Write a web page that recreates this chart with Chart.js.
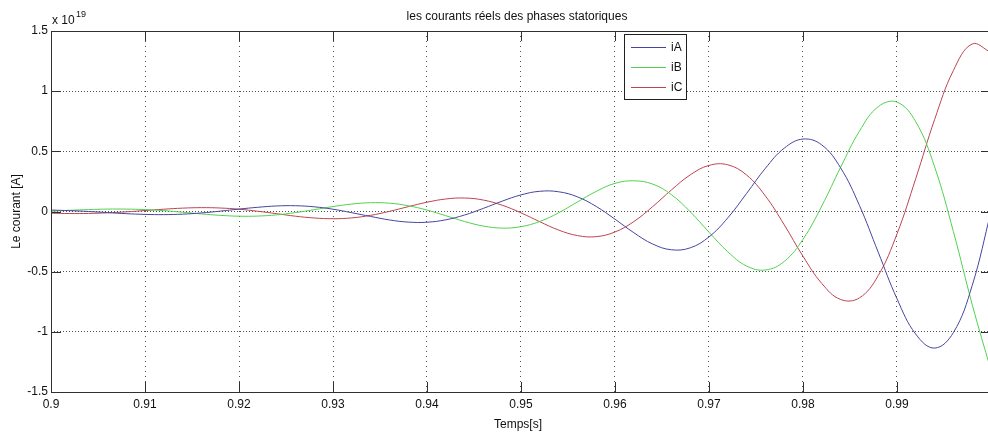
<!DOCTYPE html>
<html>
<head>
<meta charset="utf-8">
<title>Courants statoriques</title>
<script src="https://cdn.jsdelivr.net/npm/chart.js@4.4.1/dist/chart.umd.min.js"></script>
<style>
  html, body { margin: 0; padding: 0; background: #fff; overflow: hidden; }
  #zone { width: 992px; height: 432px; }
</style>
</head>
<body>
<div id="zone"><canvas id="courants" width="992" height="432"></canvas></div>
<script>
// temps en secondes
const temps = [
  0.900, 0.902, 0.904, 0.906, 0.908, 0.910, 0.912, 0.914, 0.916, 0.918,
  0.920, 0.922, 0.924, 0.926, 0.928, 0.930, 0.932, 0.934, 0.936, 0.938,
  0.940, 0.942, 0.944, 0.946, 0.948, 0.950, 0.952, 0.954, 0.956, 0.958,
  0.960, 0.962, 0.964, 0.966, 0.968, 0.970, 0.972, 0.974, 0.976, 0.978,
  0.980, 0.982, 0.984, 0.986, 0.988, 0.990, 0.992, 0.994, 0.996, 0.998,
  1.000
];

// courants en 1e19 A
const iA = [
  0.012, 0.007, 0.000, -0.009, -0.018, -0.024, -0.026, -0.022, -0.012, 0.003,
  0.020, 0.035, 0.046, 0.048, 0.039, 0.019, -0.010, -0.041, -0.070, -0.088,
  -0.089, -0.069, -0.029, 0.026, 0.086, 0.138, 0.168, 0.164, 0.122, 0.042,
  -0.064, -0.176, -0.270, -0.318, -0.302, -0.211, -0.053, 0.150, 0.359, 0.526,
  0.602, 0.553, 0.363, 0.051, -0.338, -0.725, -1.020, -1.135, -1.006, -0.615,
  0.000
];
const iB = [
  0.002, 0.010, 0.016, 0.020, 0.020, 0.016, 0.007, -0.006, -0.020, -0.032,
  -0.039, -0.038, -0.028, -0.009, 0.015, 0.041, 0.062, 0.073, 0.069, 0.048,
  0.012, -0.035, -0.083, -0.121, -0.138, -0.126, -0.083, -0.011, 0.079, 0.167,
  0.234, 0.255, 0.228, 0.140, -0.002, -0.172, -0.335, -0.453, -0.486, -0.415,
  -0.231, 0.046, 0.367, 0.667, 0.871, 0.909, 0.745, 0.371, -0.167, -0.773,
  -1.321
];
const iC = [
  -0.014, -0.017, -0.016, -0.011, -0.003, 0.008, 0.019, 0.028, 0.032, 0.029,
  0.019, 0.002, -0.018, -0.039, -0.054, -0.060, -0.053, -0.032, 0.001, 0.040,
  0.077, 0.104, 0.112, 0.095, 0.052, -0.011, -0.085, -0.154, -0.200, -0.209,
  -0.170, -0.084, 0.040, 0.179, 0.304, 0.383, 0.388, 0.303, 0.129, -0.110,
  -0.372, -0.598, -0.731, -0.718, -0.533, -0.186, 0.275, 0.764, 1.172, 1.392,
  1.321
];

const xTicks = ['0.9', '0.91', '0.92', '0.93', '0.94', '0.95', '0.96', '0.97', '0.98', '0.99', '1'];
const yTicks = ['-1.5', '-1', '-0.5', '0', '0.5', '1', '1.5'];

const titre = 'les courants réels des phases statoriques';
const titreX = 'Temps[s]';
const titreY = 'Le courant [A]';

const police = '"Liberation Sans", Arial, Helvetica, sans-serif';
Chart.defaults.font.family = police;
Chart.defaults.font.size = 12;
Chart.defaults.color = '#111';

const points = serie => temps.map((t, i) => ({ x: t, y: serie[i] }));

// cadre, graduations vers l'intérieur, textes et légende façon Matlab
const habillage = {
  id: 'habillage',
  afterDraw(chart) {
    const { ctx, chartArea: a, scales: { x, y } } = chart;
    ctx.save();

    ctx.strokeStyle = '#303030';
    ctx.lineWidth = 1;
    ctx.strokeRect(a.left + 0.5, a.top + 0.5, a.right - a.left, a.bottom - a.top);

    ctx.beginPath();
    x.ticks.forEach(t => {
      const px = Math.round(x.getPixelForValue(t.value)) + 0.5;
      ctx.moveTo(px, a.bottom); ctx.lineTo(px, a.bottom - 10);
      ctx.moveTo(px, a.top); ctx.lineTo(px, a.top + 10);
    });
    y.ticks.forEach(t => {
      const py = Math.round(y.getPixelForValue(t.value)) + 0.5;
      ctx.moveTo(a.left, py); ctx.lineTo(a.left + 10, py);
      ctx.moveTo(a.right, py); ctx.lineTo(a.right - 10, py);
    });
    ctx.stroke();

    ctx.fillStyle = '#111';
    ctx.font = '12px ' + police;
    ctx.textAlign = 'center';
    ctx.textBaseline = 'alphabetic';
    ctx.fillText(titre, 517, 20);
    ctx.fillText(titreX, 518, 428);

    ctx.save();
    ctx.translate(20, (a.top + a.bottom) / 2);
    ctx.rotate(-Math.PI / 2);
    ctx.fillText(titreY, 0, 0);
    ctx.restore();

    // facteur d'échelle de l'axe y
    ctx.textAlign = 'left';
    ctx.fillText('x 10', a.left + 1, 24);
    ctx.font = '9px ' + police;
    ctx.fillText('19', a.left + 25, 17);

    // légende
    const lx = 624, ly = 34, lw = 62, lh = 65;
    ctx.fillStyle = '#fff';
    ctx.fillRect(lx, ly, lw, lh);
    ctx.strokeStyle = '#202020';
    ctx.strokeRect(lx + 0.5, ly + 0.5, lw, lh);
    ctx.font = '12px ' + police;
    ctx.textBaseline = 'middle';
    chart.data.datasets.forEach((ds, i) => {
      const ry = ly + 13.5 + i * 20;
      ctx.strokeStyle = ds.borderColor;
      ctx.beginPath();
      ctx.moveTo(lx + 7, ry); ctx.lineTo(lx + 42, ry);
      ctx.stroke();
      ctx.fillStyle = '#111';
      ctx.fillText(ds.label, lx + 47, ry);
    });

    ctx.restore();
  }
};

new Chart(document.getElementById('courants'), {
  type: 'line',
  data: {
    datasets: [
      { label: 'iA', data: points(iA), borderColor: '#45459e' },
      { label: 'iB', data: points(iB), borderColor: '#4fd24f' },
      { label: 'iC', data: points(iC), borderColor: '#bc4451' }
    ]
  },
  options: {
    responsive: false,
    animation: false,
    devicePixelRatio: 1,
    layout: { padding: { top: 31, right: 1, bottom: 0, left: 0 } },
    elements: {
      line: { borderWidth: 1, tension: 0.4, fill: false },
      point: { radius: 0, hoverRadius: 0 }
    },
    plugins: { legend: { display: false }, tooltip: { enabled: false }, title: { display: false } },
    scales: {
      x: {
        type: 'linear',
        min: 0.9,
        max: 1.0,
        afterBuildTicks: s => { s.ticks = xTicks.map(l => ({ value: Number(l) })); },
        afterFit: s => { s.height = 40; s.paddingLeft = 0; s.paddingRight = 0; },
        grid: { color: '#505050', lineWidth: 1, drawTicks: false },
        border: { display: false, dash: [1, 4] },
        ticks: { callback: (v, i) => xTicks[i], autoSkip: false, maxRotation: 0, padding: 5 }
      },
      y: {
        min: -1.5,
        max: 1.5,
        afterBuildTicks: s => { s.ticks = yTicks.map(l => ({ value: Number(l) })); },
        afterFit: s => { s.width = 51; s.paddingTop = 0; s.paddingBottom = 0; },
        grid: { color: '#505050', lineWidth: 1, drawTicks: false },
        border: { display: false, dash: [1, 2] },
        ticks: { callback: (v, i) => yTicks[i], padding: 3 }
      }
    }
  },
  plugins: [habillage]
});
</script>
</body>
</html>
